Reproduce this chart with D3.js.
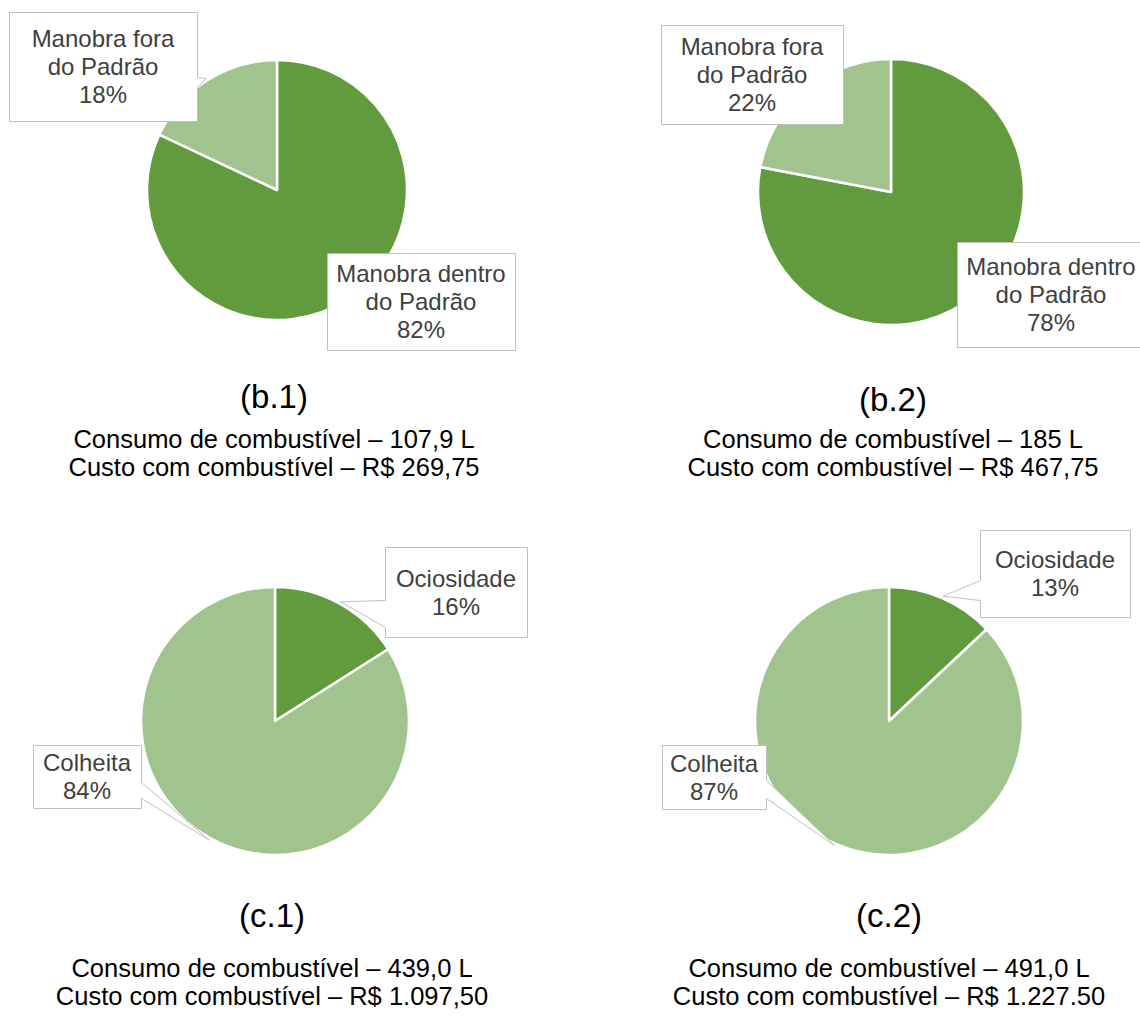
<!DOCTYPE html>
<html>
<head>
<meta charset="utf-8">
<script src="https://cdn.jsdelivr.net/npm/d3@7"></script>
<style>
  body { margin: 0; background: #fff; }
  svg { display: block; font-family: "Liberation Sans", Arial, sans-serif; }
</style>
</head>
<body>
<svg id="chart" width="1140" height="1019"></svg>
<script>
// shares (%) for each pie, first slice starts at 12 o'clock
const manobraCategories = ["Manobra dentro do Padrão", "Manobra fora do Padrão"];
const manobraB1 = [82, 18];
const manobraB2 = [78, 22];
const colheitaCategories = ["Ociosidade", "Colheita"];
const colheitaC1 = [16, 84];
const colheitaC2 = [13, 87];

const panelTitles = ["(b.1)", "(b.2)", "(c.1)", "(c.2)"];
const consumoLines = [
    "Consumo de combustível – 107,9 L",
    "Consumo de combustível – 185 L",
    "Consumo de combustível – 439,0 L",
    "Consumo de combustível – 491,0 L"
];
const custoLines = [
    "Custo com combustível – R$ 269,75",
    "Custo com combustível – R$ 467,75",
    "Custo com combustível – R$ 1.097,50",
    "Custo com combustível – R$ 1.227.50"
];

const colors = ["#619b3d", "#a1c48f"];

// layout of each panel (pie centre, radius, captions, label boxes relative to centre)
const panels = [
    {cats: manobraCategories, values: manobraB1, cx: 277, cy: 190, r: 130,
     capX: 274, titleY: 408, line1Y: 448, line2Y: 476,
     boxes: [
         {dx: 50, dy: 63, w: 188, h: 97},
         {dx: -268, dy: -178, w: 188, h: 109, side: "right", b1: 65, b2: 75}
     ]},
    {cats: manobraCategories, values: manobraB2, cx: 891, cy: 192, r: 133,
     capX: 893, titleY: 411, line1Y: 448, line2Y: 476,
     boxes: [
         {dx: 66, dy: 50, w: 188, h: 105},
         {dx: -230, dy: -167, w: 182, h: 99}
     ]},
    {cats: colheitaCategories, values: colheitaC1, cx: 275, cy: 721, r: 134,
     capX: 272, titleY: 927, line1Y: 977, line2Y: 1005,
     boxes: [
         {dx: 110, dy: -174, w: 142, h: 90, side: "left", b1: 53, b2: 80},
         {dx: -242, dy: 24, w: 108, h: 63, side: "right", b1: 37, b2: 53}
     ]},
    {cats: colheitaCategories, values: colheitaC2, cx: 889, cy: 721, r: 134,
     capX: 889, titleY: 927, line1Y: 977, line2Y: 1005,
     boxes: [
         {dx: 91, dy: -191, w: 150, h: 87, side: "left", b1: 50, b2: 70},
         {dx: -227, dy: 24, w: 104, h: 64, side: "right", b1: 35, b2: 53}
     ]}
];

const svg = d3.select("#chart");
const color = d3.scaleOrdinal().domain([0, 1]).range(colors);
const pie = d3.pie().sort(null).value(d => d);

function labelLines(name, value) {
    let lines = name.replace(" do ", "\ndo ").split("\n");
    lines.push(value + "%");
    return lines;
}

function boxPath(b, x0, y0, apex) {
    const x1 = x0 + b.w, y1 = y0 + b.h;
    if (b.side === "right") {
        return `M${x0},${y0}H${x1}V${y0 + b.b1}L${apex[0]},${apex[1]}L${x1},${y0 + b.b2}V${y1}H${x0}Z`;
    }
    if (b.side === "left") {
        return `M${x0},${y0}H${x1}V${y1}H${x0}V${y0 + b.b2}L${apex[0]},${apex[1]}L${x0},${y0 + b.b1}Z`;
    }
    return `M${x0},${y0}H${x1}V${y1}H${x0}Z`;
}

panels.forEach((p, i) => {
    const g = svg.append("g").attr("transform", `translate(${p.cx},${p.cy})`);
    const arc = d3.arc().innerRadius(0).outerRadius(p.r);
    const arcs = pie(p.values);

    g.selectAll(".slice")
        .data(arcs)
        .enter()
        .append("path")
        .attr("class", "slice")
        .attr("d", arc)
        .attr("fill", (d, j) => color(j))
        .attr("stroke", "#ffffff")
        .attr("stroke-width", 2.5)
        .attr("stroke-linejoin", "round");

    // data labels in boxes, with a pointer where the box sits off the slice
    arcs.forEach((a, j) => {
        const b = p.boxes[j];
        const mid = (a.startAngle + a.endAngle) / 2;
        const apex = [Math.sin(mid) * (p.r + 2), -Math.cos(mid) * (p.r + 2)];
        const x0 = b.dx + 0.5, y0 = b.dy + 0.5;

        g.append("path")
            .attr("d", boxPath(b, x0, y0, apex))
            .attr("fill", "#ffffff")
            .attr("stroke", "#bfbfbf")
            .attr("stroke-width", 1);

        const lines = labelLines(p.cats[j], a.data);
        const lineH = 28;
        g.append("text")
            .attr("text-anchor", "middle")
            .attr("font-size", "24px")
            .attr("fill", "#404040")
            .selectAll("tspan")
            .data(lines)
            .enter()
            .append("tspan")
            .attr("x", b.dx + b.w / 2)
            .attr("y", (d, k) => b.dy + b.h / 2 + (k - (lines.length - 1) / 2) * lineH + 8.5)
            .text(d => d);
    });

    // captions under each pie
    svg.append("text")
        .attr("x", p.capX)
        .attr("y", p.titleY)
        .attr("text-anchor", "middle")
        .attr("font-size", "33px")
        .attr("fill", "#000")
        .text(panelTitles[i]);

    svg.append("text")
        .attr("x", p.capX)
        .attr("y", p.line1Y)
        .attr("text-anchor", "middle")
        .attr("font-size", "25.5px")
        .attr("fill", "#000")
        .text(consumoLines[i]);

    svg.append("text")
        .attr("x", p.capX)
        .attr("y", p.line2Y)
        .attr("text-anchor", "middle")
        .attr("font-size", "25.5px")
        .attr("fill", "#000")
        .text(custoLines[i]);
});
</script>
</body>
</html>
